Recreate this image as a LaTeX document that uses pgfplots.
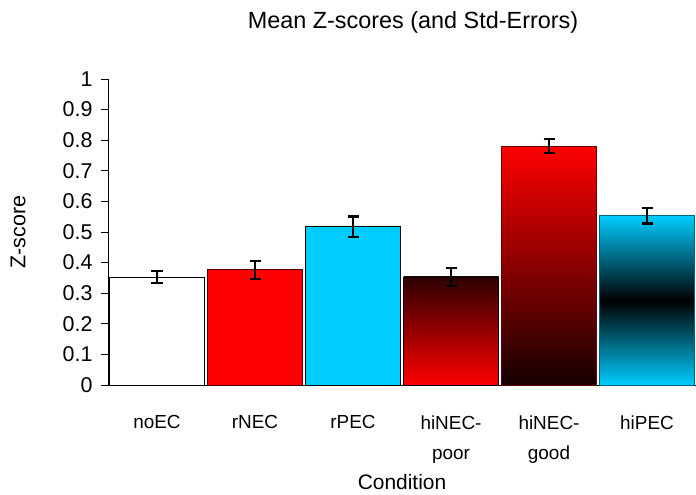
\documentclass[border=0pt]{standalone}
\usepackage{pgfplots}
\pgfplotsset{compat=1.18}
\usepackage{fontspec}
\setmainfont{Liberation Sans}
\definecolor{cy}{RGB}{0,204,255}
\definecolor{dkr}{RGB}{45,0,0}
\definecolor{dkr2}{RGB}{22,0,0}
\begin{document}
\begin{tikzpicture}
\begin{axis}[
  name=ax,
  scale only axis, width=588bp, height=306bp,
  xmin=-0.5, xmax=5.5, ymin=0, ymax=1,
  axis lines*=left,
  axis line style={black, line width=0.9bp},
  ytick={0,0.1,0.2,0.3,0.4,0.5,0.6,0.7,0.8,0.9,1},
  yticklabels={0,0.1,0.2,0.3,0.4,0.5,0.6,0.7,0.8,0.9,1},
  xtick={0,1,2,3,4,5},
  xticklabels={noEC,rNEC,rPEC,{hiNEC-\\poor},{hiNEC-\\good},hiPEC},
  xticklabel style={align=center, font=\fontsize{19}{30}\selectfont, anchor=north, yshift=-20bp},
  yticklabel style={font=\fontsize{21.5}{24}\selectfont, xshift=-5bp},
  x tick style={draw=none},
  y tick style={black, line width=0.9bp},
  tick align=outside, major tick length=7bp,
  title={Mean Z-scores (and Std-Errors)},
  title style={font=\fontsize{23.5}{26}\selectfont, at={(axis description cs:0.5,1)}, anchor=center, yshift=51bp, xshift=11bp},
  xlabel={Condition},
  xlabel style={font=\fontsize{21}{24}\selectfont, at={(axis description cs:0.5,0)}, anchor=center, yshift=-97bp},
  ylabel={Z-score},
  ylabel style={font=\fontsize{21.5}{24}\selectfont, at={(axis description cs:-0.153,0.5)}, anchor=center},
  bar width=95bp,
  clip=false,
]
\addplot[ybar, bar shift=0pt, fill=white, draw=black, line width=0.9bp] coordinates {(0,0.353)};
\addplot[ybar, bar shift=0pt, fill=red, draw=black!70!red, line width=0.9bp] coordinates {(1,0.376)};
\addplot[ybar, bar shift=0pt, fill=cy, draw=black, line width=0.9bp] coordinates {(2,0.517)};
\addplot[ybar, bar shift=0pt, top color=dkr, bottom color=red, draw=black, line width=0.9bp] coordinates {(3,0.353)};
\addplot[ybar, bar shift=0pt, top color=red, bottom color=dkr2, draw=black!60!red, line width=0.9bp] coordinates {(4,0.781)};
\addplot[ybar, bar shift=0pt, top color=cy, bottom color=cy, middle color=black, draw=black!50!cy, line width=0.9bp] coordinates {(5,0.553)};
\addplot[draw=none, mark=none, forget plot,
  error bars/.cd, y dir=both, y explicit,
  error bar style={black, line width=2.6bp},
  error mark options={rotate=90, mark size=5.5bp, line width=2.6bp, black}]
  coordinates {
    (0,0.353) +- (0,0.020)
    (1,0.376) +- (0,0.029)
    (2,0.517) +- (0,0.033)
    (3,0.353) +- (0,0.030)
    (4,0.781) +- (0,0.023)
    (5,0.553) +- (0,0.025)
  };
\end{axis}
\pgfresetboundingbox
\path (ax.south west) ++(-108bp,-110bp) coordinate (bl);
\path (ax.north east) ++(0bp,79bp) coordinate (tr);
\path[use as bounding box] (bl) rectangle (tr);
\end{tikzpicture}
\end{document}
